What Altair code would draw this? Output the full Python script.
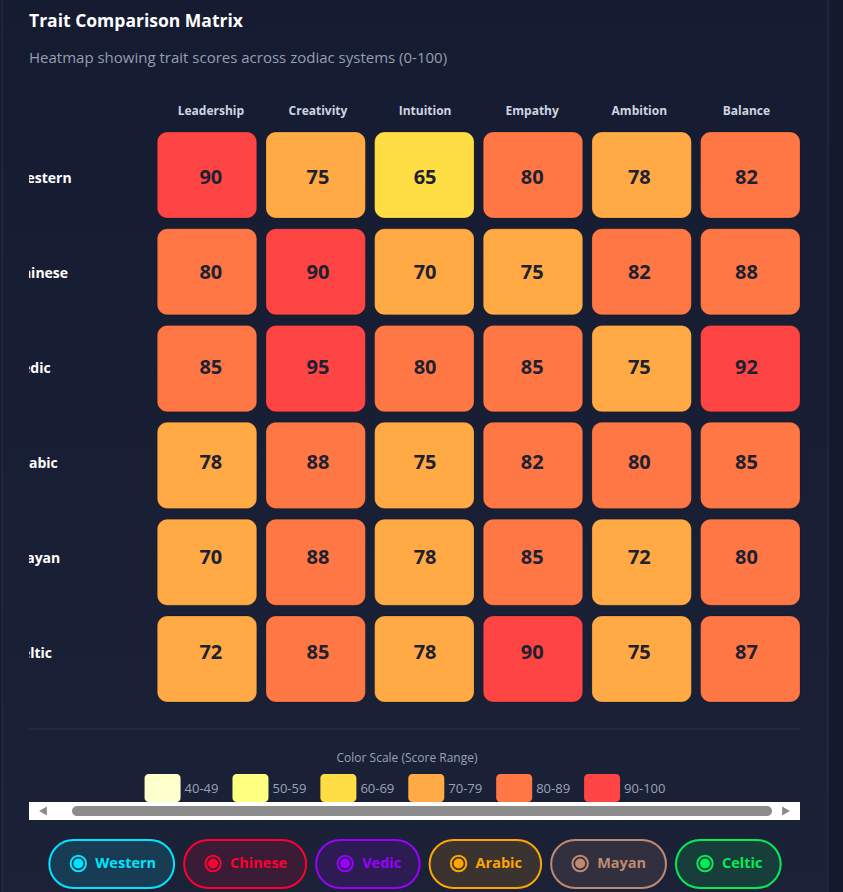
import altair as alt
import pandas as pd

# ---------------- data ----------------
systems = ["Western", "Chinese", "Vedic", "Arabic", "Mayan", "Celtic"]
traits = ["Leadership", "Creativity", "Intuition", "Empathy", "Ambition", "Balance"]

western_scores = [90, 75, 65, 80, 78, 82]
chinese_scores = [80, 90, 70, 75, 82, 88]
vedic_scores = [85, 95, 80, 85, 75, 92]
arabic_scores = [78, 88, 75, 82, 80, 85]
mayan_scores = [70, 88, 78, 85, 72, 80]
celtic_scores = [72, 85, 78, 90, 75, 87]

score_ranges = ["40-49", "50-59", "60-69", "70-79", "80-89", "90-100"]
range_colors = ["#ffffcc", "#ffff80", "#ffdd44", "#ffaa44", "#ff7744", "#ff4444"]
system_colors = ["#00e5ff", "#ff0033", "#9900ff", "#ffa500", "#bf8a72", "#00ee55"]

title_text = "Trait Comparison Matrix"
subtitle_text = "Heatmap showing trait scores across zodiac systems (0-100)"
legend_title_text = "Color Scale (Score Range)"

FONT = "Open Sans"

# ---------------- tables ----------------
all_scores = [western_scores, chinese_scores, vedic_scores,
              arabic_scores, mayan_scores, celtic_scores]


def bucket(v):
    if v >= 90:
        return "90-100"
    lo = (v // 10) * 10
    return f"{lo}-{lo + 9}"


rows = []
for s, vals in zip(systems, all_scores):
    for t, v in zip(traits, vals):
        rows.append({"system": s, "trait": t, "score": v, "bucket": bucket(v)})
heat = pd.DataFrame(rows)

W, H = 771, 570


# ----- layout helpers for the legend row and the pill buttons -----
def text_width(s, size, widths, default):
    return sum(widths.get(c, default) for c in s) * size


digit_w = {c: 0.572 for c in "0123456789"}
digit_w["-"] = 0.32
group_ws = [text_width(r, 13, digit_w, 0.57) for r in score_ranges]
total = sum(36 + 4 + lw for lw in group_ws) + 14 * (len(group_ws) - 1)
cur = 376 - total / 2
leg_rows = []
for r, c, lw in zip(score_ranges, range_colors, group_ws):
    leg_rows.append({"range": r, "color": c, "x0": cur, "x1": cur + 36, "tx": cur + 40})
    cur += 36 + 4 + lw + 14
legend_df = pd.DataFrame(leg_rows)

bold_w = {"W": .93, "C": .63, "V": .62, "A": .69, "M": .97, "e": .56, "s": .5,
          "t": .41, "r": .43, "n": .66, "h": .66, "i": .3, "d": .64, "c": .51,
          "a": .6, "b": .64, "y": .56, "l": .3}
pill_ws = [64 + text_width(s, 15, bold_w, 0.6) for s in systems]
total_p = sum(pill_ws) + 10 * (len(pill_ws) - 1)
cur = 386 - total_p / 2
btn_rows = []
for s, c, pw in zip(systems, system_colors, pill_ws):
    btn_rows.append({"system": s, "color": c, "x0": cur, "x1": cur + pw,
                     "icon": cur + 29, "tx": cur + 46})
    cur += pw + 10
btn_df = pd.DataFrame(btn_rows)

one = pd.DataFrame({"k": [0]})

# ---------------- scales ----------------
xs = alt.Scale(domain=traits, range=[128.3, 771], paddingInner=0.085, paddingOuter=0)
ys = alt.Scale(domain=systems, paddingInner=0.111, paddingOuter=0)

# ---------------- layers ----------------
card = alt.Chart(one).mark_rect(
    fill=alt.Gradient(
        gradient="linear",
        stops=[alt.GradientStop(color="#151c31", offset=0),
               alt.GradientStop(color="#1b2137", offset=1)],
        x1=0, x2=0, y1=0, y2=1),
    stroke="#283048", strokeWidth=1,
).encode(x=alt.value(-27), x2=alt.value(799), y=alt.value(-140), y2=alt.value(775))

title = alt.Chart(one).mark_text(
    font=FONT, fontSize=17.5, fontWeight="bold", color="#ffffff", align="left",
    baseline="middle", text=title_text
).encode(x=alt.value(0), y=alt.value(-110))

subtitle = alt.Chart(one).mark_text(
    font=FONT, fontSize=15, color="#959daf", align="left",
    baseline="middle", text=subtitle_text
).encode(x=alt.value(0), y=alt.value(-74))

cells = alt.Chart(heat).mark_rect(
    cornerRadius=10, stroke="#000000", strokeOpacity=0.18, strokeWidth=1
).encode(
    x=alt.X("trait:N", scale=xs, axis=None),
    y=alt.Y("system:N", scale=ys, axis=None),
    color=alt.Color("bucket:N", scale=alt.Scale(domain=score_ranges, range=range_colors), legend=None),
    tooltip=["system:N", "trait:N", "score:Q"],
)

nums = alt.Chart(heat).mark_text(
    font=FONT, fontSize=20, fontWeight="bold", color="#1e2130", dy=-2
).encode(
    x=alt.X("trait:N", scale=xs, axis=None),
    y=alt.Y("system:N", scale=ys, axis=None),
    text="score:Q",
)

headers = alt.Chart(pd.DataFrame({"trait": traits})).mark_text(
    font=FONT, fontSize=12, fontWeight="bold", color="#cfd5e0"
).encode(
    x=alt.X("trait:N", scale=xs, axis=None),
    y=alt.value(-21),
    text="trait:N",
)

row_labels = alt.Chart(pd.DataFrame({"system": systems})).mark_text(
    font=FONT, fontSize=14, fontWeight="bold", color="#ffffff", align="left", clip=True, dy=-1
).encode(
    x=alt.value(-16),
    y=alt.Y("system:N", scale=ys, axis=None),
    text="system:N",
)

sep = alt.Chart(one).mark_rule(color="#2a3349", strokeWidth=1).encode(
    x=alt.value(0), x2=alt.value(W), y=alt.value(597))

leg_title = alt.Chart(one).mark_text(
    font=FONT, fontSize=12, color="#9aa3b5", text=legend_title_text
).encode(x=alt.value(378), y=alt.value(626))

swatches = alt.Chart(legend_df).mark_rect(cornerRadius=4).encode(
    x=alt.X("x0:Q", scale=None), x2="x1:Q",
    y=alt.value(642), y2=alt.value(670),
    fill=alt.Color("color:N", scale=None),
)

swatch_labels = alt.Chart(legend_df).mark_text(
    font=FONT, fontSize=13, color="#9aa3b5", align="left"
).encode(
    x=alt.X("tx:Q", scale=None), y=alt.value(657), text="range:N")

track = alt.Chart(one).mark_rect(color="#ffffff").encode(
    x=alt.value(0), x2=alt.value(W), y=alt.value(670), y2=alt.value(688))
thumb = alt.Chart(one).mark_rect(color="#8c8c8c", cornerRadius=5).encode(
    x=alt.value(43), x2=alt.value(743), y=alt.value(674), y2=alt.value(684))
arrow_l = alt.Chart(one).mark_point(shape="triangle-left", filled=True, size=80, color="#8a8a8a", opacity=1).encode(
    x=alt.value(14), y=alt.value(679))
arrow_r = alt.Chart(one).mark_point(shape="triangle-right", filled=True, size=80, color="#8a8a8a", opacity=1).encode(
    x=alt.value(757), y=alt.value(679))

pills = alt.Chart(btn_df).mark_rect(cornerRadius=24, strokeWidth=2, fillOpacity=0.14).encode(
    x=alt.X("x0:Q", scale=None), x2="x1:Q",
    y=alt.value(708), y2=alt.value(756),
    fill=alt.Color("color:N", scale=None),
    stroke=alt.Stroke("color:N", scale=None),
)
rings = alt.Chart(btn_df).mark_point(shape="circle", filled=False, strokeWidth=2, size=237, opacity=1).encode(
    x=alt.X("icon:Q", scale=None), y=alt.value(731.5),
    stroke=alt.Stroke("color:N", scale=None),
)
dots = alt.Chart(btn_df).mark_point(shape="circle", filled=True, size=100, opacity=1).encode(
    x=alt.X("icon:Q", scale=None), y=alt.value(731.5),
    fill=alt.Color("color:N", scale=None),
)
btn_text = alt.Chart(btn_df).mark_text(
    font=FONT, fontSize=14.5, fontWeight="bold", align="left"
).encode(
    x=alt.X("tx:Q", scale=None), y=alt.value(731.5),
    text="system:N",
    fill=alt.Color("color:N", scale=None),
)

chart = alt.layer(
    card, title, subtitle, cells, nums, headers, row_labels, sep, leg_title, swatches,
    swatch_labels, track, thumb, arrow_l, arrow_r, pills, rings, dots, btn_text
).resolve_scale(
    x="independent", y="independent", color="independent", fill="independent", stroke="independent"
).properties(
    width=W, height=H,
    autosize=alt.AutoSizeParams(type="none"),
    padding={"left": 29, "top": 132, "right": 43, "bottom": 190},
).configure(
    background="#131a2c", font=FONT
).configure_view(stroke=None)

chart.save("out.html", embed_options={"renderer": "svg", "actions": False})
